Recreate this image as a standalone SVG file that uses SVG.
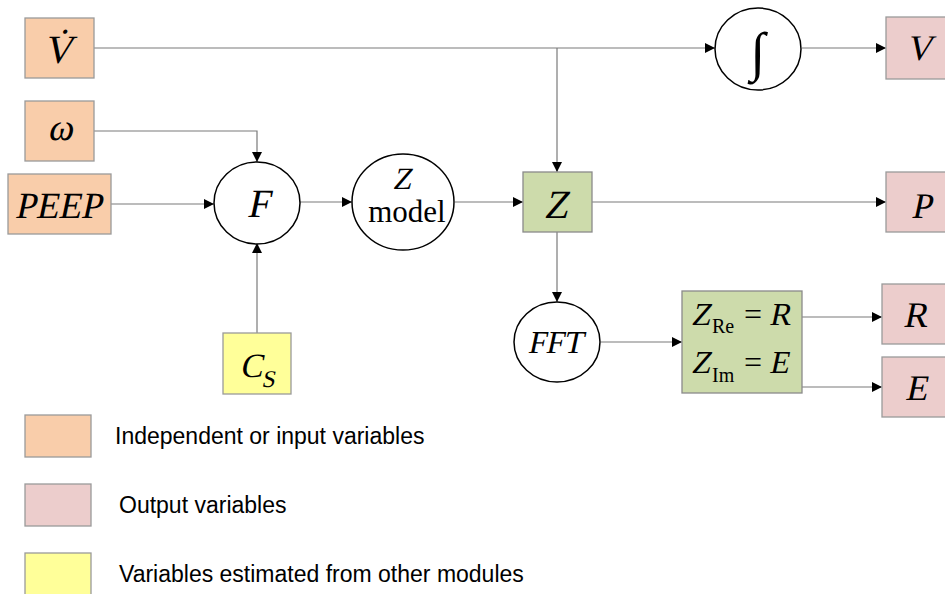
<svg xmlns="http://www.w3.org/2000/svg" width="945" height="594" viewBox="0 0 945 594">
<defs>
<style>
.in{fill:#F9CDAA;stroke:#9a9a9a;stroke-width:1.3}
.out{fill:#ECCDCC;stroke:#9a9a9a;stroke-width:1.3}
.mid{fill:#CDDBAB;stroke:#8a8a8a;stroke-width:1.3}
.est{fill:#FFFF99;stroke:#9a9a9a;stroke-width:1.3}
.op{fill:#fff;stroke:#000;stroke-width:1.5}
.m{font-family:"Liberation Serif","Times New Roman",serif;fill:#000}
.r{font-family:"Liberation Serif","Times New Roman",serif;fill:#000}
.lg{font-family:"Liberation Sans",Arial,sans-serif;font-size:23px;fill:#000}
.c{fill:none;stroke:#7a7a7a;stroke-width:1.2}
</style>
<marker id="ah" viewBox="0 0 10 10" refX="10" refY="5" markerWidth="10" markerHeight="10" markerUnits="userSpaceOnUse" orient="auto">
<path d="M0,0 L10,5 L0,10 z" fill="#000"/>
</marker>
</defs>
<rect width="945" height="594" fill="#fff"/>

<g id="connectors">
<path class="c" d="M94,48 H715" marker-end="url(#ah)"/>
<path class="c" d="M557,48 V172" marker-end="url(#ah)"/>
<path class="c" d="M802,48 H886" marker-end="url(#ah)"/>
<path class="c" d="M94,131 H257 V162" marker-end="url(#ah)"/>
<path class="c" d="M111,204 H214" marker-end="url(#ah)"/>
<path class="c" d="M257,333 V243" marker-end="url(#ah)"/>
<path class="c" d="M300,202 H352" marker-end="url(#ah)"/>
<path class="c" d="M455,202 H523" marker-end="url(#ah)"/>
<path class="c" d="M592,202 H886" marker-end="url(#ah)"/>
<path class="c" d="M557,232 V302" marker-end="url(#ah)"/>
<path class="c" d="M601,342 H682" marker-end="url(#ah)"/>
<path class="c" d="M802,317 H882" marker-end="url(#ah)"/>
<path class="c" d="M802,387 H882" marker-end="url(#ah)"/>
</g>

<g id="node-Vdot">
<rect class="in" x="25" y="18" width="69" height="60"/>
<text class="m" transform="translate(58,63) skewX(-12)" font-size="40" text-anchor="middle">V&#x307;</text>
</g>
<g id="node-omega">
<rect class="in" x="25" y="101" width="69" height="60"/>
<text class="m" transform="translate(60,140) skewX(-12)" font-size="38" text-anchor="middle">ω</text>
</g>
<g id="node-PEEP">
<rect class="in" x="8" y="174" width="103" height="60"/>
<text class="m" transform="translate(58,218) skewX(-12)" font-size="37" text-anchor="middle">PEEP</text>
</g>
<g id="node-F">
<ellipse class="op" cx="257" cy="203" rx="43" ry="41"/>
<text class="m" transform="translate(258,217) skewX(-12)" font-size="40" text-anchor="middle">F</text>
</g>
<g id="node-Cs">
<rect class="est" x="223" y="333" width="68" height="61"/>
<text class="m" transform="translate(251,377) skewX(-12)" font-size="34" text-anchor="middle">C</text>
<text class="m" transform="translate(268,387) skewX(-12)" font-size="24" text-anchor="middle">S</text>
</g>
<g id="node-Zmodel">
<ellipse class="op" cx="403" cy="202" rx="51" ry="48"/>
<text class="m" transform="translate(402,189) skewX(-12)" font-size="31" text-anchor="middle">Z</text>
<text class="r" x="407" y="222" font-size="31" text-anchor="middle">model</text>
</g>
<g id="node-Z">
<rect class="mid" x="523" y="172" width="69" height="60"/>
<text class="m" transform="translate(556,218) skewX(-12)" font-size="40" text-anchor="middle">Z</text>
</g>
<g id="node-integral">
<ellipse class="op" cx="758" cy="49" rx="43" ry="41"/>
<text class="r" x="758" y="70" font-size="54" text-anchor="middle">∫</text>
</g>
<g id="node-V">
<rect class="out" x="886" y="17" width="68" height="62"/>
<text class="m" transform="translate(919,60) skewX(-12)" font-size="36" text-anchor="middle">V</text>
</g>
<g id="node-P">
<rect class="out" x="886" y="172" width="68" height="60"/>
<text class="m" transform="translate(921,218) skewX(-12)" font-size="36" text-anchor="middle">P</text>
</g>
<g id="node-FFT">
<ellipse class="op" cx="557" cy="342" rx="43" ry="40"/>
<text class="m" transform="translate(555,353) skewX(-12)" font-size="32" text-anchor="middle">FFT</text>
</g>
<g id="node-ZReIm">
<rect class="mid" x="682" y="291" width="120" height="102"/>
<text class="m" transform="translate(691,325) skewX(-12)" font-size="32">Z</text>
<text class="r" x="712" y="333" font-size="20">Re</text>
<text class="r" x="744" y="325" font-size="32">=</text>
<text class="m" transform="translate(769,325) skewX(-12)" font-size="32">R</text>
<text class="m" transform="translate(691,373) skewX(-12)" font-size="32">Z</text>
<text class="r" x="712" y="382" font-size="20">Im</text>
<text class="r" x="744" y="373" font-size="32">=</text>
<text class="m" transform="translate(769,373) skewX(-12)" font-size="32">E</text>
</g>
<g id="node-R">
<rect class="out" x="882" y="284" width="72" height="60"/>
<text class="m" transform="translate(915,327) skewX(-12)" font-size="36" text-anchor="middle">R</text>
</g>
<g id="node-E">
<rect class="out" x="882" y="357" width="72" height="60"/>
<text class="m" transform="translate(916,400) skewX(-12)" font-size="36" text-anchor="middle">E</text>
</g>

<g id="legend">
<rect class="in" x="25" y="415" width="66" height="42"/>
<text class="lg" x="115" y="444">Independent or input variables</text>
<rect class="out" x="25" y="484" width="66" height="42"/>
<text class="lg" x="119" y="513">Output variables</text>
<rect class="est" x="25" y="553" width="66" height="45"/>
<text class="lg" x="119" y="582">Variables estimated from other modules</text>
</g>
</svg>
